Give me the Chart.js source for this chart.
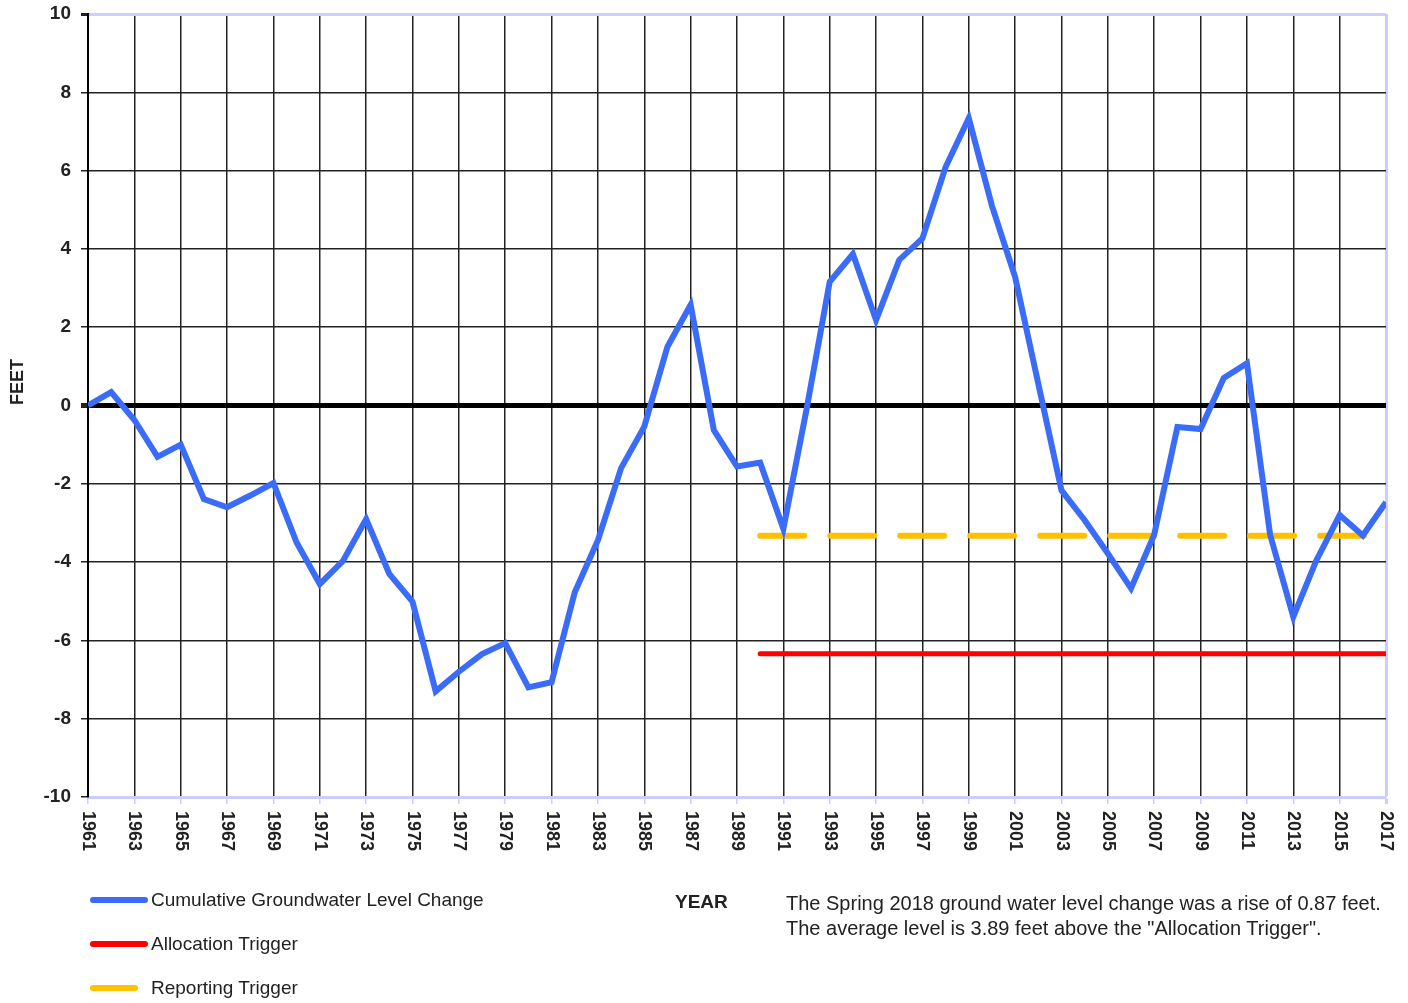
<!DOCTYPE html>
<html lang="en">
<head>
    <meta charset="UTF-8">
    <title>Cumulative Groundwater Level Change</title>
    <script src="https://cdn.jsdelivr.net/npm/chart.js"></script>
    <style>
        body {
            margin: 0;
            background: #fff;
            font-family: "Liberation Sans", Arial, sans-serif;
            color: #222;
        }
        .wrap {
            position: relative;
            width: 1408px;
            height: 1003px;
        }
        .txt {
            position: absolute;
            height: 22px;
            line-height: 22px;
            font-size: 19px;
            white-space: nowrap;
            display: flex;
            align-items: center;
        }
        .note {
            font-size: 20px;
        }
        .sw {
            display: inline-block;
            height: 6px;
            border-radius: 3px;
        }
    </style>
</head>

<body>
    <div class="wrap">
        <canvas id="grafico" width="1408" height="1003"></canvas>

        <div class="txt" style="left:90px; top:889px;">
            <span class="sw" style="width:58px; background:#3b6cf8; margin-right:3px;"></span>Cumulative Groundwater Level Change
        </div>
        <div class="txt" style="left:90px; top:933px;">
            <span class="sw" style="width:58px; background:#ff0000; margin-right:3px;"></span>Allocation Trigger
        </div>
        <div class="txt" style="left:90px; top:977px;">
            <span class="sw" style="width:48px; background:#ffc000; margin-right:13px;"></span>Reporting Trigger
        </div>

        <div class="txt" style="left:675px; top:891px; font-weight:bold;">YEAR</div>
        <div class="txt note" style="left:786px; top:892px;">The Spring 2018 ground water level change was a rise of 0.87 feet.</div>
        <div class="txt note" style="left:786px; top:917px;">The average level is 3.89 feet above the "Allocation Trigger".</div>
    </div>

    <script>
        // years on the x axis
        const years = [1961, 1962, 1963, 1964, 1965, 1966, 1967, 1968, 1969, 1970,
            1971, 1972, 1973, 1974, 1975, 1976, 1977, 1978, 1979, 1980,
            1981, 1982, 1983, 1984, 1985, 1986, 1987, 1988, 1989, 1990,
            1991, 1992, 1993, 1994, 1995, 1996, 1997, 1998, 1999, 2000,
            2001, 2002, 2003, 2004, 2005, 2006, 2007, 2008, 2009, 2010,
            2011, 2012, 2013, 2014, 2015, 2016, 2017];

        // cumulative change in feet
        const levels = [0, 0.34, -0.37, -1.31, -1.0, -2.39, -2.6, -2.3, -1.98, -3.5,
            -4.56, -3.97, -2.9, -4.3, -5.01, -7.3, -6.8, -6.35, -6.07, -7.2,
            -7.07, -4.77, -3.44, -1.6, -0.54, 1.5, 2.57, -0.63, -1.56, -1.46,
            -3.15, -0.1, 3.16, 3.87, 2.18, 3.72, 4.27, 6.09, 7.34, 5.1,
            3.28, 0.55, -2.17, -2.93, -3.78, -4.67, -3.3, -0.55, -0.6, 0.7,
            1.08, -3.3, -5.4, -3.95, -2.8, -3.32, -2.47];

        // trigger lines run from 1990 to 2017
        const triggerYears = [1990, 2017];
        const allocationTrigger = [-6.34, -6.34];
        const reportingTrigger = [-3.33, -3.33];

        const tickYears = [1961, 1963, 1965, 1967, 1969, 1971, 1973, 1975, 1977, 1979,
            1981, 1983, 1985, 1987, 1989, 1991, 1993, 1995, 1997, 1999,
            2001, 2003, 2005, 2007, 2009, 2011, 2013, 2015, 2017];

        const lavender = '#ccccff';
        const gridColor = '#222';

        // labels under the x axis read top to bottom, so draw them here
        const yearLabels = {
            id: 'yearLabels',
            afterDraw(chart) {
                const { ctx, scales: { x, y } } = chart;
                ctx.save();
                ctx.fillStyle = '#222';
                ctx.font = 'bold 18px "Liberation Sans", Arial, sans-serif';
                ctx.textAlign = 'left';
                ctx.textBaseline = 'middle';
                x.ticks.forEach(t => {
                    ctx.save();
                    ctx.translate(x.getPixelForValue(t.value), y.bottom + 14);
                    ctx.rotate(Math.PI / 2);
                    ctx.fillText(String(t.value), 0, 0);
                    ctx.restore();
                });
                ctx.translate(18, 382);
                ctx.rotate(-Math.PI / 2);
                ctx.textAlign = 'center';
                ctx.fillText('FEET', 0, 0);
                ctx.restore();
            }
        };

        const ctx = document.getElementById('grafico').getContext('2d');
        new Chart(ctx, {
            type: 'line',
            data: {
                datasets: [
                    {
                        label: 'Cumulative Groundwater Level Change',
                        data: years.map((yr, i) => ({ x: yr, y: levels[i] })),
                        borderColor: '#3b6cf8',
                        borderWidth: 6,
                        order: 1
                    },
                    {
                        label: 'Allocation Trigger',
                        data: triggerYears.map((yr, i) => ({ x: yr, y: allocationTrigger[i] })),
                        borderColor: '#ff0000',
                        borderWidth: 5,
                        borderCapStyle: 'round',
                        order: 2
                    },
                    {
                        label: 'Reporting Trigger',
                        data: triggerYears.map((yr, i) => ({ x: yr, y: reportingTrigger[i] })),
                        borderColor: '#ffc000',
                        borderWidth: 6,
                        borderDash: [44, 26],
                        borderCapStyle: 'round',
                        order: 2
                    }
                ]
            },
            options: {
                responsive: false,
                animation: false,
                layout: { padding: { top: 14, right: 22, left: 0, bottom: 0 } },
                elements: {
                    point: { radius: 0 },
                    line: { tension: 0 }
                },
                plugins: {
                    legend: { display: false },
                    tooltip: { enabled: false }
                },
                scales: {
                    x: {
                        type: 'linear',
                        min: 1961,
                        max: 2017,
                        afterBuildTicks: scale => {
                            scale.ticks = tickYears.map(v => ({ value: v }));
                        },
                        afterFit: scale => { scale.height = 206; },
                        ticks: { display: false },
                        grid: {
                            color: c => c.tick && c.tick.value === 2017 ? lavender : gridColor,
                            lineWidth: c => c.tick && c.tick.value === 2017 ? 3 : 1.5,
                            tickColor: lavender,
                            tickLength: 7
                        },
                        border: { color: lavender, width: 3 }
                    },
                    y: {
                        min: -10,
                        max: 10,
                        afterFit: scale => {
                            scale.width = 88;
                            scale.paddingTop = 0;
                            scale.paddingBottom = 0;
                        },
                        ticks: {
                            stepSize: 2,
                            padding: 10,
                            color: '#222',
                            font: { family: '"Liberation Sans", Arial, sans-serif', size: 19, weight: 'bold' }
                        },
                        grid: {
                            color: c => {
                                if (!c.tick) return gridColor;
                                if (c.tick.value === 10) return lavender;
                                if (c.tick.value === 0) return '#000';
                                return gridColor;
                            },
                            lineWidth: c => {
                                if (!c.tick) return 1.5;
                                if (c.tick.value === 0) return 5;
                                if (c.tick.value === 10) return 3;
                                return 1.5;
                            },
                            tickColor: '#222',
                            tickLength: 7
                        },
                        border: { color: '#000', width: 2 }
                    }
                }
            },
            plugins: [yearLabels]
        });
    </script>
</body>
</html>
